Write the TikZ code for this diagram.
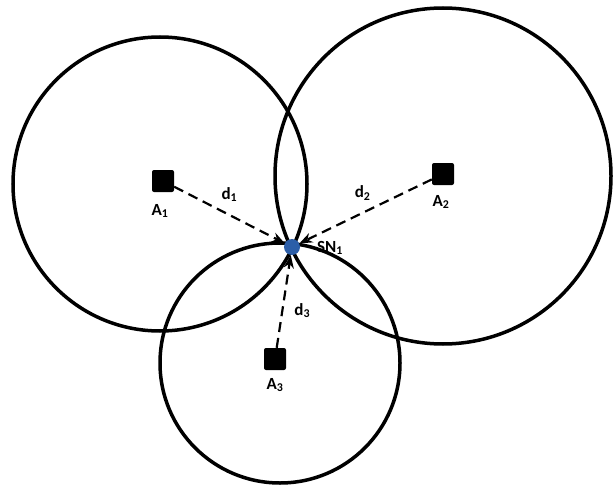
\documentclass[tikz,border=0pt]{standalone}
\usepackage{fontspec}
\setmainfont{Carlito}
\usepackage{tikz}
\usetikzlibrary{arrows.meta,positioning}
\definecolor{snblue}{RGB}{44,94,168}

\begin{document}
\begin{tikzpicture}[x=1pt,y=-1pt,
  rangering/.style={line width=3.5pt,black},
  anchorbox/.style={draw=none,fill=black,rectangle,rounded corners=2pt,minimum size=22pt,inner sep=0pt},
  sensor/.style={draw=none,fill=snblue,circle,minimum size=16pt,inner sep=0pt},
  dist/.style={line width=2.2pt,dash pattern=on 10pt off 6pt,-{Stealth[length=13pt,width=10pt]}},
  lbl/.style={font=\fontsize{17}{20}\selectfont\bfseries,inner sep=0pt}]
\useasboundingbox (0,0) rectangle (616,487);
\coordinate (C1) at (160,184);
\coordinate (C2) at (443,176);
\coordinate (C3) at (280,363);
\draw[rangering] (C1) circle[radius=147pt];
\draw[rangering] (C2) circle[radius=168pt];
\draw[rangering] (C3) circle[radius=120pt];
\node[anchorbox] (A1) at (163,181) {};
\node[anchorbox] (A2) at (443,174) {};
\node[anchorbox] (A3) at (275,359) {};
\node[sensor] (SN) at (292,247) {};
\node[lbl] at (160,211) {A\textsubscript{1}};
\node[lbl] at (441,202) {A\textsubscript{2}};
\node[lbl] at (275,385) {A\textsubscript{3}};
\node[lbl,right] at (317,248) {SN\textsubscript{1}};
\draw[dist] (A1) -- node[lbl,above=12pt,xshift=0pt] {d\textsubscript{1}} (SN);
\draw[dist] (A2) -- node[lbl,above=10pt,xshift=-3pt] {d\textsubscript{2}} (SN);
\draw[dist] (A3) -- node[lbl,pos=0.4,right=11pt] {d\textsubscript{3}} (SN);
\end{tikzpicture}
\end{document}
